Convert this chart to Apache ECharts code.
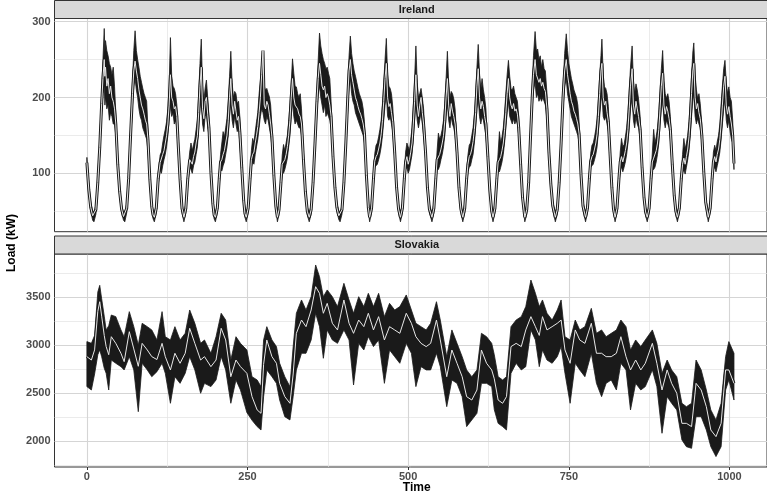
<!DOCTYPE html>
<html>
<head>
<meta charset="utf-8">
<script src="https://cdn.jsdelivr.net/npm/echarts@6/dist/echarts.min.js"></script>
<style>
  html, body { margin: 0; padding: 0; background: #ffffff; }
  #chart { width: 767px; height: 495px; }
</style>
</head>
<body>
<div id="chart"></div>
<script>
// ---- Ireland: half-hourly load, ensemble envelope (low/high) and central path ----
const irlTime = [
  0,3,6,9,11,14,17,20,23,25,27,28,29,31,33,35,37,39,41,43,45,48,51,54,57,
  59,62,65,68,71,73,75,77,79,81,83,85,87,89,91,93,95,98,101,103,
  105,108,111,114,116,118,120,122,124,126,128,130,132,134,136,138,140,142,145,148,
  151,154,157,160,162,164,166,168,170,172,174,176,178,180,182,184,186,188,190,193,196,198,
  200,203,206,208,210,212,214,216,218,220,222,224,226,228,230,232,234,236,238,241,244,246,
  248,251,254,256,258,260,262,264,266,268,270,272,274,276,278,280,282,284,286,288,291,294,
  296.5,299,302,304,306,308,310,312,314,316,318,320,322,324,326,328,330,332,334,337,340,343,
  346,349,352,355,358,360,362,364,366,368,370,372,374,376,378,380,383,386,389,392,
  394,397,400,403,406,408,410,412,414,416,418,420,422,424,426,428,430,432,435,438,
  440,443,446,448,450,452,454,456,458,460,462,464,466,468,470,472,474,476,479,482,485,
  488,491,494,496,498,500,502,504,506,508,510,512,514,516,518,520,522,524,527,530,533,
  537,540,543,545,547,549,551,553,555,557,559,561,563,565,567,569,571,573,576,579,582,
  585,588,591,593,595,597,599,601,603,605,607,609,611,613,615,617,619,621,624,627,630,
  632,635,638,640,642,644,646,648,650,652,654,656,658,660,662,664,666,668,670,672,675,678,
  681.5,684.5,687.5,690,693,695,697.5,699.5,701.5,703.5,705.5,707.5,709.5,711.5,713.5,716,719,722,725,
  729,732,735,738,741,743.5,746,748,750,752,754,756,758,760,762,764,766,769,772,
  776,779,782,784,786,788,790,792,794,796,798,800,801.5,803.5,805.5,807.5,809.5,811.5,814,817,819.5,
  822,825,828,830,832,834,836,838,840,842,844,846,848.5,850.5,852.5,854.5,856.5,858.5,861,864,867,869.5,
  872,875,878,880,882,884,886,888,890,892,894,896,898,900,902,904,906,908,911,914,916.5,
  919,922,925,927,929,931,933,935,937,939,941,943,944.5,946.5,948.5,950.5,952.5,954.5,957,960,963,
  967,970,973,975,977,979,981,983,985,987,989,991,993,995,997,999,1001,1003,1005,1007
];
const irlLow = [
  106,72,50,38,36,46,80,125,180,205,215,190,200,185,190,170,180,175,165,165,150,105,70,48,38,
  36,48,85,140,190,215,225,210,200,185,175,170,160,155,150,145,130,85,50,40,
  36,48,85,105,100,110,118,125,135,150,170,190,175,180,165,170,160,130,85,48,
  36,48,85,108,105,100,110,115,125,135,160,185,200,165,155,175,180,160,150,95,55,40,
  36,48,85,105,103,110,115,125,135,150,175,195,170,160,175,165,155,160,140,100,58,42,
  36,48,85,108,115,112,125,135,145,160,175,185,180,170,165,175,170,160,150,135,90,52,
  36,46,80,102,100,105,112,120,135,150,175,195,175,165,170,165,160,160,150,110,70,45,
  36,46,80,130,180,205,215,200,190,180,190,175,180,175,170,160,115,75,50,39,
  36,46,80,130,185,215,225,205,195,190,180,175,170,165,160,155,150,140,90,50,
  36,48,85,108,110,112,118,125,135,150,170,190,205,175,170,175,165,155,120,75,48,
  36,48,85,105,108,100,105,115,125,145,170,195,170,160,170,180,165,150,120,75,48,
  36,48,85,108,105,110,118,125,135,150,175,195,170,160,175,165,160,150,120,75,48,
  36,48,85,102,108,110,118,125,140,160,185,200,175,165,175,170,160,150,115,72,45,
  36,48,85,105,102,108,115,125,140,160,180,195,175,170,165,172,165,170,165,150,105,62,
  36,46,80,130,185,210,220,200,205,195,200,195,200,195,190,170,120,80,52,
  36,46,80,130,185,215,225,205,195,185,175,170,165,160,155,150,140,92,52,
  36,48,85,108,110,112,118,125,135,155,175,195,205,175,170,175,165,155,120,75,48,
  36,48,85,105,108,102,108,115,125,140,160,185,200,170,160,175,165,160,145,100,62,44,
  36,48,85,105,105,108,115,125,140,165,185,200,170,160,170,165,160,145,105,65,45,
  36,48,85,100,105,99,108,118,130,150,175,198,205,175,165,172,165,160,140,95,57,
  36,48,85,105,108,102,110,118,128,145,165,185,200,170,160,170,155,145,140,105
];
const irlMid = [
  114,78,55,44,42,52,88,134,192,225,250,228,240,215,225,205,215,200,195,185,165,112,76,53,43,
  42,54,93,150,205,235,248,235,225,210,200,190,185,178,170,165,145,92,56,45,
  42,54,93,114,112,125,130,140,150,165,190,230,200,195,185,188,175,140,92,54,
  42,54,93,118,118,112,122,128,140,150,180,215,240,185,172,195,200,178,160,102,60,45,
  42,54,93,115,118,125,130,140,150,170,200,225,190,178,195,182,170,175,155,108,64,47,
  42,54,93,118,125,128,140,150,162,180,200,230,262,190,185,195,190,178,165,148,97,57,
  42,52,88,112,112,118,125,135,150,170,200,225,200,190,190,185,178,175,165,118,76,50,
  42,52,88,140,195,225,245,230,215,210,215,200,205,200,190,175,122,81,55,44,
  42,52,88,140,200,235,250,230,220,210,200,195,188,182,178,172,165,152,97,55,
  42,54,93,116,122,125,132,140,152,170,195,225,245,200,188,192,180,168,128,81,53,
  42,54,93,115,122,112,118,128,140,165,195,230,190,175,190,200,180,165,128,81,53,
  42,54,93,118,120,125,132,140,150,170,200,225,190,175,192,182,175,165,128,81,53,
  42,54,93,112,122,125,132,142,158,180,215,238,200,185,195,188,175,165,122,78,50,
  42,54,93,115,118,122,130,140,158,180,205,225,200,190,185,192,182,185,178,160,112,68,
  42,52,88,140,200,230,250,230,228,220,225,215,220,212,208,185,128,86,57,
  42,52,88,140,200,235,250,230,218,205,195,190,182,178,172,165,152,98,57,
  42,54,93,116,122,125,132,140,152,175,205,235,245,200,190,195,180,168,128,81,53,
  42,54,93,115,122,115,122,130,140,158,185,215,238,190,178,195,185,175,158,108,68,49,
  42,54,93,115,120,122,130,140,158,185,215,232,190,178,188,182,172,158,112,71,50,
  42,54,93,112,120,112,122,132,148,172,205,235,245,200,185,192,180,172,150,102,62,
  42,54,93,115,122,115,125,132,145,165,190,215,228,190,178,188,175,165,150,113
];
const irlHigh = [
  121,86,62,50,48,58,96,144,205,250,291,260,275,262,255,245,240,230,240,215,180,120,82,58,48,
  48,60,101,160,222,262,288,262,250,240,228,220,212,205,200,195,160,100,62,51,
  48,60,101,124,128,140,150,158,168,185,215,279,228,215,212,205,190,152,100,60,
  48,60,101,128,140,130,138,145,158,170,205,245,277,215,195,212,223,200,175,110,66,51,
  48,60,101,125,140,155,148,160,172,195,228,261,220,200,208,205,192,195,175,118,70,53,
  48,60,101,130,146,140,155,168,180,205,222,245,250,215,210,212,206,201,190,162,105,63,
  48,58,96,124,138,130,140,150,168,190,220,251,232,215,214,205,200,205,185,128,82,56,
  48,58,96,150,210,250,285,268,258,250,245,238,240,232,225,195,130,88,61,50,
  48,58,96,150,215,255,281,258,245,235,228,220,212,205,200,195,185,168,105,61,
  48,60,101,126,137,140,148,158,170,192,220,250,278,230,215,212,205,188,138,88,59,
  48,60,101,128,140,135,130,145,160,190,225,268,220,200,205,212,200,185,138,88,59,
  48,60,101,130,153,145,150,158,170,192,225,261,220,200,208,205,198,185,138,88,59,
  48,60,101,124,137,140,150,160,178,205,240,270,232,210,225,210,200,185,132,85,56,
  48,60,101,128,155,140,148,160,180,205,230,249,228,212,210,215,205,200,195,175,120,75,
  48,58,96,150,215,255,287,262,264,250,255,240,250,238,235,205,138,94,63,
  48,58,96,150,215,258,284,262,245,235,225,218,210,205,200,190,168,106,63,
  48,60,101,126,137,140,148,158,172,198,228,255,277,230,214,212,205,188,138,88,59,
  48,60,101,128,146,135,138,148,160,180,210,240,268,222,205,218,210,198,175,118,75,55,
  48,60,101,128,158,140,148,160,180,210,238,262,222,205,199,205,195,175,122,78,56,
  48,60,101,125,146,132,140,150,168,195,230,260,272,230,210,199,205,192,165,110,68,
  48,60,101,128,137,130,142,150,165,190,215,238,249,220,205,214,200,195,170,120
];

// ---- Slovakia: ensemble envelope (low/high) and central path ----
const svkTime = [
  0,7,12,17,20,23,27,30,34,38,45,53,58,66,73,80,86,94,101,109,
  117,122,130,137,145,153,160,168,177,183,193,201,209,216,224,232,239,249,257,265,
  271,275,280,288,295,300,308,316,321,326,334,341,349,356,362,368,374,382,390,400,
  408,415,423,431,438,446,454,463,471,479,487,497,505,512,520,528,535,544,550,560,
  568,576,584,591,599,607,614,622,630,634,640,647,653,660,668,676,683,691,698,704,
  709,716,724,732,738,744,752,760,767,775,785,793,801,808,816,824,831,839,846,854,
  862,869,880,887,895,903,910,918,926,933,941,948,956,964,971,979,987,994,999,1007
];
const svkLow = [
  2569,2534,2700,2900,2950,2880,2760,2707,2534,2845,2811,2776,2742,2880,2742,2309,2811,2742,2672,2724,
  2811,2707,2396,2672,2603,2707,2880,2742,2500,2603,2569,2638,2880,2742,2396,2638,2534,2300,2220,2154,
  2119,2465,2742,2672,2603,2430,2257,2223,2465,2742,2915,2915,3053,3330,3191,2863,3157,3053,3018,3157,
  3053,2586,3018,2949,3087,2984,3053,2603,2949,2880,2811,3018,2915,2569,2776,2742,2742,2915,2776,2361,
  2638,2603,2465,2154,2223,2292,2603,2603,2569,2330,2188,2154,2119,2707,2811,2742,2776,3157,3053,2776,
  2949,2845,2811,2880,2984,2707,2396,2811,2742,2672,2915,2603,2465,2603,2638,2534,2811,2742,2327,2603,
  2534,2569,2742,2569,2085,2465,2396,2327,2016,1946,1929,2257,2257,2119,1946,1843,1946,2534,2638,2430
];
const svkMid = [
  2880,2845,2950,3350,3450,3300,3100,2984,2900,3087,3018,2915,2828,3139,2960,2780,3018,2949,2880,2850,
  3018,2880,2742,2915,2811,2915,3174,3018,2845,2880,2776,2845,3174,3053,2672,2845,2776,2707,2465,2327,
  2292,2800,3053,2880,2811,2603,2465,2396,2700,3122,3260,3191,3364,3606,3537,3330,3433,3226,3157,3468,
  3226,3122,3260,3191,3330,3157,3295,3053,3191,3157,3122,3330,3226,3087,3018,2984,3018,3260,3053,2672,
  2949,2811,2672,2465,2430,2534,2949,2811,2742,2650,2430,2396,2465,2984,3018,2984,3157,3295,3191,3100,
  3295,3157,3191,3226,3260,2950,2811,3157,3053,3018,3226,2915,2915,2880,2880,2915,3087,2880,2742,2845,
  2742,2811,3018,2811,2534,2742,2603,2500,2188,2188,2154,2603,2534,2361,2119,2050,2188,2742,2742,2603
];
const svkHigh = [
  3036,3018,3100,3550,3620,3480,3300,3157,3200,3312,3295,3157,3087,3347,3191,3000,3226,3191,3157,3053,
  3347,3087,3053,3191,3053,3122,3364,3226,3018,3053,2915,3087,3330,3260,2845,3087,3018,2949,2672,2638,
  2569,3053,3191,3053,2984,2811,2672,2569,2984,3330,3468,3364,3502,3831,3710,3502,3572,3502,3399,3641,
  3468,3330,3502,3399,3537,3399,3537,3295,3433,3364,3399,3520,3364,3226,3191,3157,3226,3450,3260,2880,
  3157,3018,2880,2742,2672,2742,3122,3087,3018,2900,2672,2638,2672,3191,3260,3295,3399,3675,3537,3399,
  3468,3330,3260,3364,3468,3087,3053,3260,3157,3191,3381,3122,3157,3087,3122,3157,3260,3191,2949,3053,
  2984,3053,3157,3018,2707,2845,2742,2672,2396,2361,2396,2845,2742,2534,2327,2223,2396,2880,3036,2915
];

// ---- axis breaks and facet labels ----
const xMajor = [0, 250, 500, 750, 1000];
const xMinor = [125, 375, 625, 875];
const irlMajor = [100, 200, 300];
const irlMinor = [50, 150, 250];
const svkMajor = [2000, 2500, 3000, 3500];
const svkMinor = [1750, 2250, 2750, 3250, 3750];
const panelNames = ['Ireland', 'Slovakia'];

const FONT = '"Liberation Sans", Arial, Helvetica, sans-serif';
const PANEL_LEFT = 54.5;
const PANEL_WIDTH = 724.5;   // panel runs past the right edge of the canvas
const STRIP_H = 18;
const panels = [
  { top: 18.5, height: 213.2, yMin: 23, yMax: 304.2, major: irlMajor, minor: irlMinor,
    t: irlTime, lo: irlLow, mid: irlMid, hi: irlHigh },
  { top: 254, height: 213, yMin: 1735, yMax: 3945, major: svkMajor, minor: svkMinor,
    t: svkTime, lo: svkLow, mid: svkMid, hi: svkHigh }
];

const majorGrid = { color: '#d5d5d5', width: 1.1, type: 'solid' };
const minorGrid = { color: '#e2e2e2', width: 0.7, type: 'solid' };
const tickLabel = { color: '#4d4d4d', fontSize: 11, fontWeight: 'bold', fontFamily: FONT,
  formatter: function (v) { return String(v); } };

const grids = [], xAxes = [], yAxes = [], series = [], graphics = [];

panels.forEach(function (p, i) {
  const isBottom = i === panels.length - 1;
  grids.push({
    left: PANEL_LEFT, top: p.top, width: PANEL_WIDTH, height: p.height,
    show: true, backgroundColor: '#ffffff', borderColor: '#333333', borderWidth: 1
  });
  xAxes.push({
    type: 'value', gridIndex: i, min: -50.4, max: 1058.4,
    axisLine: { show: false },
    splitLine: { show: false },
    axisTick: { show: isBottom, customValues: xMajor, length: 3, lineStyle: { color: '#333333', width: 1 } },
    axisLabel: Object.assign({ show: isBottom, customValues: xMajor, margin: 4 }, tickLabel)
  });
  yAxes.push({
    type: 'value', gridIndex: i, min: p.yMin, max: p.yMax,
    axisLine: { show: false },
    splitLine: { show: false },
    axisTick: { show: true, customValues: p.major, length: 3, lineStyle: { color: '#333333', width: 1 } },
    axisLabel: Object.assign({ customValues: p.major, margin: 4 }, tickLabel)
  });

  // panel grid lines
  const gl = [];
  xMinor.forEach(v => gl.push({ xAxis: v, lineStyle: minorGrid }));
  p.minor.forEach(v => gl.push({ yAxis: v, lineStyle: minorGrid }));
  xMajor.forEach(v => gl.push({ xAxis: v, lineStyle: majorGrid }));
  p.major.forEach(v => gl.push({ yAxis: v, lineStyle: majorGrid }));
  series.push({
    type: 'line', xAxisIndex: i, yAxisIndex: i, data: [], silent: true, z: 1,
    markLine: { silent: true, symbol: 'none', z: 1, animation: false,
      label: { show: false }, emphasis: { disabled: true }, data: gl }
  });

  // ensemble envelope
  const t = p.t, lo = p.lo, hi = p.hi;
  series.push({
    type: 'custom', xAxisIndex: i, yAxisIndex: i, z: 3, silent: true,
    data: [0],
    renderItem: function (params, api) {
      const pts = [];
      for (let k = 0; k < t.length; k++) pts.push(api.coord([t[k], hi[k]]));
      for (let k = t.length - 1; k >= 0; k--) pts.push(api.coord([t[k], lo[k]]));
      return { type: 'polygon', shape: { points: pts },
        style: { fill: '#1a1a1a', stroke: '#1a1a1a', lineWidth: 0.8, lineJoin: 'round' } };
    }
  });

  const midData = p.t.map((x, k) => [x, p.mid[k]]);
  // dark outline under the central path
  series.push({
    type: 'line', xAxisIndex: i, yAxisIndex: i, z: 4, silent: true,
    data: midData, showSymbol: false, symbol: 'none',
    lineStyle: { color: '#1a1a1a', width: 3 }
  });
  // central path
  series.push({
    type: 'line', xAxisIndex: i, yAxisIndex: i, z: 5, silent: true,
    data: midData, showSymbol: false, symbol: 'none',
    lineStyle: { color: '#e6e6e6', width: 1 }
  });

  // facet strip
  const stripTop = p.top - STRIP_H;
  graphics.push({
    type: 'rect', silent: true, z: 10,
    shape: { x: PANEL_LEFT, y: stripTop, width: PANEL_WIDTH, height: STRIP_H },
    style: { fill: '#d9d9d9', stroke: '#333333', lineWidth: 1 }
  });
  graphics.push({
    type: 'text', silent: true, z: 11,
    x: PANEL_LEFT + PANEL_WIDTH / 2, y: stripTop + STRIP_H / 2,
    style: { text: panelNames[i], fill: '#1a1a1a', font: 'bold 11px ' + FONT,
      textAlign: 'center', textVerticalAlign: 'middle' }
  });
});

// axis titles
graphics.push({
  type: 'text', silent: true, z: 11, x: 12, y: 243, rotation: Math.PI / 2,
  style: { text: 'Load (kW)', fill: '#000000', font: 'bold 12px ' + FONT,
    textAlign: 'center', textVerticalAlign: 'middle' }
});
graphics.push({
  type: 'text', silent: true, z: 11, x: PANEL_LEFT + PANEL_WIDTH / 2, y: 488,
  style: { text: 'Time', fill: '#000000', font: 'bold 12px ' + FONT,
    textAlign: 'center', textVerticalAlign: 'middle' }
});

const chart = echarts.init(document.getElementById('chart'), null, { renderer: 'canvas' });
chart.setOption({
  animation: false,
  backgroundColor: '#ffffff',
  grid: grids,
  xAxis: xAxes,
  yAxis: yAxes,
  series: series,
  graphic: graphics
});
</script>
</body>
</html>
